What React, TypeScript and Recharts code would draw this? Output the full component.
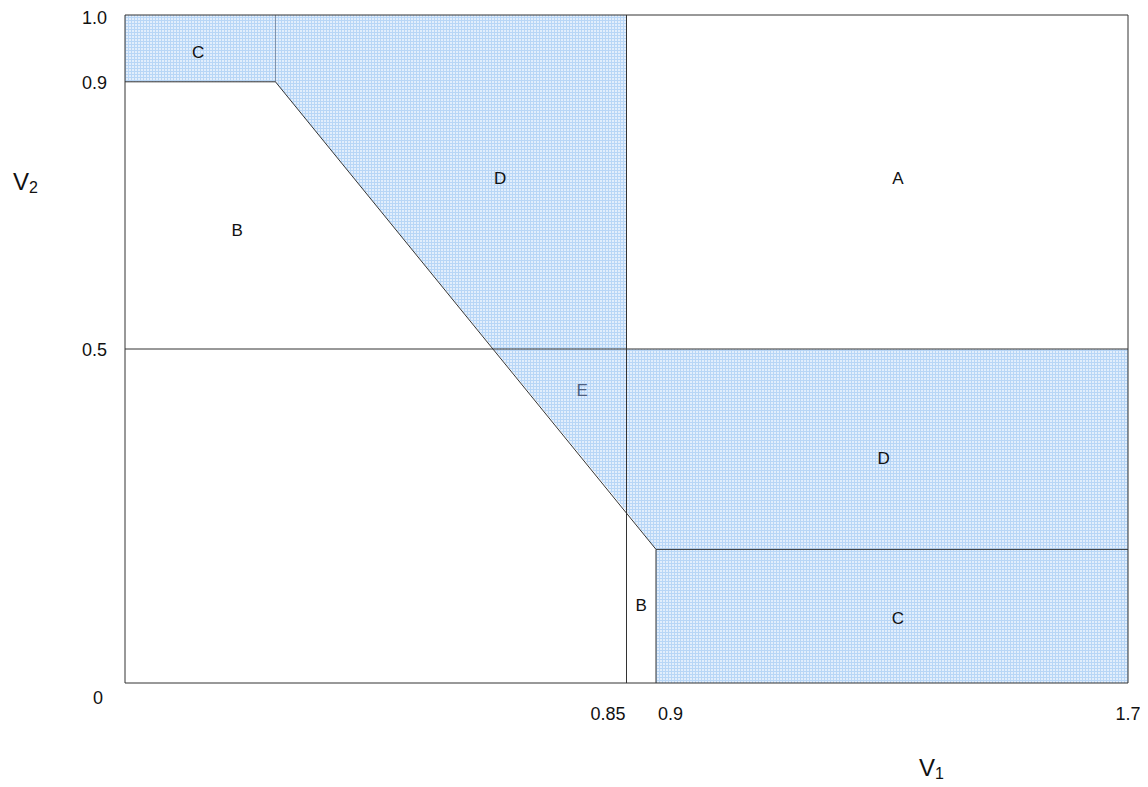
import { ComposedChart, Area, XAxis, YAxis, ReferenceLine, Scatter, Label } from 'recharts';

// shaded (blue hatched) region, as a range band over V1
const shadeV1 = [0, 0.255, 0.85, 0.85, 0.9, 0.9, 1.7];
const shadeLow = [0.9, 0.9, 0.257, 0.257, 0.2, 0, 0];
const shadeHigh = [1, 1, 1, 0.5, 0.5, 0.5, 0.5];

const xTicks = [0.85, 0.9, 1.7];
const yTicks = [0, 0.5, 0.9, 1.0];

// region letters
const regionNames = ['C', 'D', 'A', 'B', 'E', 'D', 'B', 'C'];
const regionV1 = [0.124, 0.636, 1.31, 0.19, 0.775, 1.286, 0.875, 1.31];
const regionV2 = [0.945, 0.756, 0.756, 0.678, 0.439, 0.337, 0.117, 0.097];

// boundary lines: [v1 start, v2 start, v1 end, v2 end]
const borders = [
    [0, 0.5, 1.7, 0.5],
    [0.85, 0, 0.85, 1],
    [0, 0.9, 0.255, 0.9],
    [0.255, 0.9, 0.9, 0.2],
    [0.9, 0.2, 1.7, 0.2],
    [0.9, 0, 0.9, 0.2],
    [0, 1, 1.7, 1],
    [1.7, 0, 1.7, 1],
];

const font = '"Liberation Sans", Arial, sans-serif';
const ink = '#333';

const shadeData = shadeV1.map((x, i) => ({ x, range: [shadeLow[i], shadeHigh[i]] }));
const regionData = regionNames.map((name, i) => ({ name, x: regionV1[i], y: regionV2[i] }));

const XTick = ({ x, y, payload }: any) => {
    const v = payload.value;
    const anchor = v === 0.85 ? 'end' : v === 0.9 ? 'start' : 'middle';
    const dx = v === 0.85 ? -1 : v === 0.9 ? 2 : 0;
    return (
        <text x={x + dx} y={y + 37} textAnchor={anchor} fontSize={18} fontFamily={font} fill="#111">
            {String(v)}
        </text>
    );
};

const YTick = ({ x, y, payload }: any) => {
    const v = payload.value;
    if (v === 0) {
        return (
            <text x={x - 27} y={y + 21} textAnchor="middle" fontSize={18} fontFamily={font} fill="#111">0</text>
        );
    }
    return (
        <text x={x - 18} y={y + (v === 1 ? 9 : 7)} textAnchor="end" fontSize={18} fontFamily={font} fill="#111">
            {v.toFixed(1)}
        </text>
    );
};

const RegionLabel = ({ cx, cy, payload }: any) => (
    <text x={cx} y={cy + 6} textAnchor="middle" fontSize={17} fontFamily={font}
        fill={payload.name === 'E' ? '#4e6080' : '#111'}>
        {payload.name}
    </text>
);

const AxisName = ({ sub, x, y }: { sub: string; x: number; y: number }) => (
    <text x={x} y={y} fontFamily={font} fontSize={24} fill="#111">
        V<tspan fontSize={16} dy={3}>{sub}</tspan>
    </text>
);

export default function App() {
    return (
        <div style={{ position: 'relative', width: 1140, height: 779 }}>
            <svg width={0} height={0} style={{ position: 'absolute' }}>
                <defs>
                    <pattern id="blueGrid" width={3} height={3} patternUnits="userSpaceOnUse">
                        <rect width={3} height={3} fill="#e2eefc" />
                        <path d="M0 0.5 H3 M0.5 0 V3" stroke="#b8d6f6" strokeWidth={1} />
                    </pattern>
                </defs>
            </svg>
            <ComposedChart width={1140} height={779} data={shadeData}
                margin={{ top: 7, right: 20, bottom: 44, left: 0 }}>
                <XAxis type="number" dataKey="x" domain={[0, 1.7]} ticks={xTicks} interval={0}
                    tickLine={false} tickSize={0} tickMargin={0} tick={<XTick />} height={60}
                    axisLine={{ stroke: ink }}>
                    <Label content={() => <AxisName sub="1" x={911} y={768} />} />
                </XAxis>
                <YAxis type="number" domain={[0, 1]} ticks={yTicks} interval={0} width={117}
                    tickLine={false} tickSize={0} tickMargin={0} tick={<YTick />}
                    axisLine={{ stroke: ink }}>
                    <Label content={() => <AxisName sub="2" x={5} y={182} />} />
                </YAxis>
                <Area type="linear" dataKey="range" stroke="none" fill="url(#blueGrid)" fillOpacity={1}
                    isAnimationActive={false} activeDot={false} dot={false} />
                <ReferenceLine segment={[{ x: 0.255, y: 0.9 }, { x: 0.255, y: 1 }]} stroke="#7c8ea6" strokeWidth={1} />
                {borders.map((b, i) => (
                    <ReferenceLine key={i} segment={[{ x: b[0], y: b[1] }, { x: b[2], y: b[3] }]}
                        stroke={ink} strokeWidth={1} ifOverflow="extendDomain" />
                ))}
                <Scatter data={regionData} dataKey="y" shape={<RegionLabel />} isAnimationActive={false} />
            </ComposedChart>
        </div>
    );
}
